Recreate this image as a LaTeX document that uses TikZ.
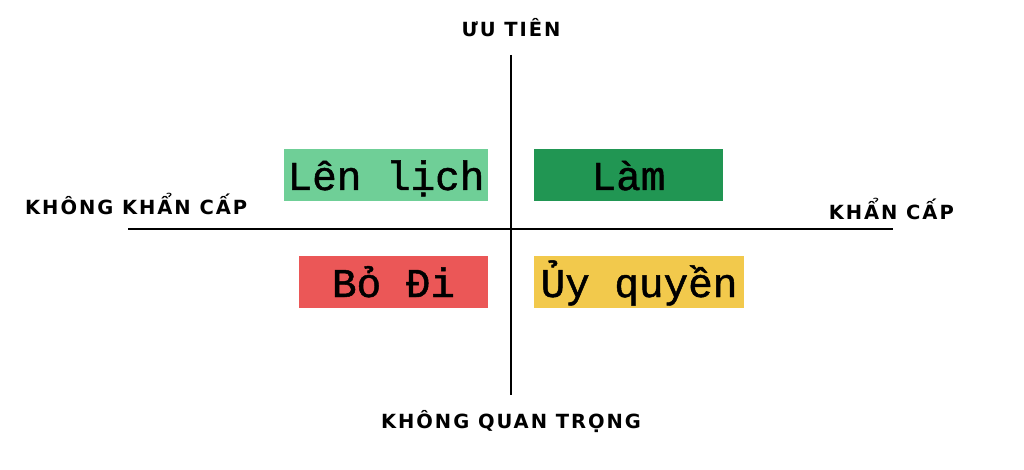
\documentclass[tikz,border=0pt]{standalone}
\usepackage{fontspec}
\usepackage{xcolor}
\newfontfamily\axisfont[LetterSpace=10]{DejaVu Sans Bold}
\newfontfamily\boxfont[FakeBold=1.2]{Liberation Mono}
\definecolor{lenLich}{HTML}{6FCF97}
\definecolor{lam}{HTML}{219653}
\definecolor{boDi}{HTML}{EB5757}
\definecolor{uyQuyen}{HTML}{F2C94C}
\tikzset{
    task/.style={minimum width=#1, minimum height=52pt, inner sep=0pt,
        text height=38pt, text depth=8pt,
        font=\boxfont\fontsize{41}{41}\selectfont},
    axislabel/.style={inner sep=0pt, font=\axisfont\fontsize{19.5}{20}\selectfont}
}

\begin{document}
\begin{tikzpicture}[x=1pt,y=-1pt]
        \useasboundingbox (0,0) rectangle (1024,470);
        % axes
        \coordinate (xLeft) at (128,229);
        \coordinate (xRight) at (893,229);
        \coordinate (yTop) at (511,55);
        \coordinate (yBottom) at (511,395);
        \draw[line width=1.2pt] (xLeft) -- (xRight);
        \draw[line width=1.2pt] (yTop) -- (yBottom);
        \node[axislabel] (uuTien) at (511,28) {ƯU TIÊN};
        \node[axislabel] (khongQuanTrong) at (511,422) {KHÔNG QUAN TRỌNG};
        \node[axislabel, anchor=west] (khongKhanCap) at (25,204) {KHÔNG KHẨN CẤP};
        \node[axislabel, anchor=east] (khanCap) at (954,209) {KHẨN CẤP};
        % tasks
        \node[task=204pt, fill=lenLich] (schedule) at (386,175) {Lên lịch};
        \node[task=189pt, fill=lam] (doIt) at (628.5,175) {Làm};
        \node[task=189pt, fill=boDi] (drop) at (393.5,282) {Bỏ Đi};
        \node[task=210pt, fill=uyQuyen] (delegate) at (639,282) {Ủy quyền};
    \end{tikzpicture}
\end{document}
